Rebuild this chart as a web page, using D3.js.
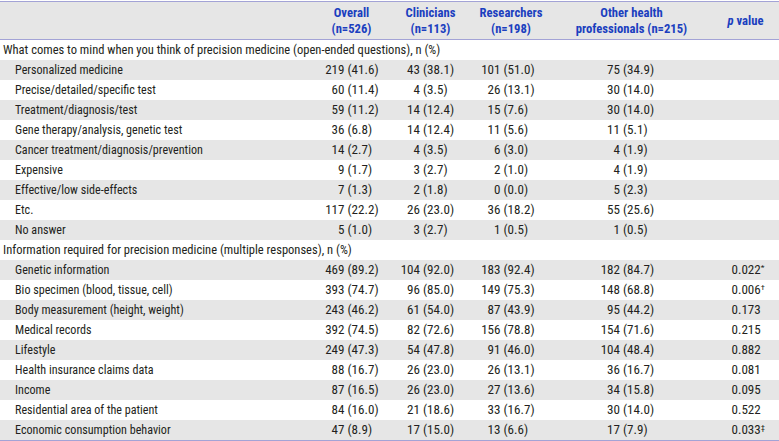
<!DOCTYPE html>
<html><head><meta charset="utf-8">
<script src="https://cdn.jsdelivr.net/npm/d3@7"></script>
<style>html,body{margin:0;padding:0;background:#fff;} svg{display:block;}</style>
</head><body>
<svg id="chart" width="779" height="441"></svg>
<script>
// ---------- DATA ----------
const columnKeys = ["overall", "clinicians", "researchers", "other"];
const columnHeads = [["Overall", "(n=526)"], ["Clinicians", "(n=113)"], ["Researchers", "(n=198)"], ["Other health", "professionals (n=215)"]];
const pValueHead = ["p", " value"];

const section1Title = "What comes to mind when you think of precision medicine (open-ended questions), n (%)";
const section1Items = ["Personalized medicine", "Precise/detailed/specific test", "Treatment/diagnosis/test",
  "Gene therapy/analysis, genetic test", "Cancer treatment/diagnosis/prevention", "Expensive",
  "Effective/low side-effects", "Etc.", "No answer"];
const s1Overall     = [[219, 41.6], [60, 11.4], [59, 11.2], [36, 6.8], [14, 2.7], [9, 1.7], [7, 1.3], [117, 22.2], [5, 1.0]];
const s1Clinicians  = [[43, 38.1], [4, 3.5], [14, 12.4], [14, 12.4], [4, 3.5], [3, 2.7], [2, 1.8], [26, 23.0], [3, 2.7]];
const s1Researchers = [[101, 51.0], [26, 13.1], [15, 7.6], [11, 5.6], [6, 3.0], [2, 1.0], [0, 0.0], [36, 18.2], [1, 0.5]];
const s1Other       = [[75, 34.9], [30, 14.0], [30, 14.0], [11, 5.1], [4, 1.9], [4, 1.9], [5, 2.3], [55, 25.6], [1, 0.5]];

const section2Title = "Information required for precision medicine (multiple responses), n (%)";
const section2Items = ["Genetic information", "Bio specimen (blood, tissue, cell)", "Body measurement (height, weight)",
  "Medical records", "Lifestyle", "Health insurance claims data", "Income", "Residential area of the patient",
  "Economic consumption behavior"];
const s2Overall     = [[469, 89.2], [393, 74.7], [243, 46.2], [392, 74.5], [249, 47.3], [88, 16.7], [87, 16.5], [84, 16.0], [47, 8.9]];
const s2Clinicians  = [[104, 92.0], [96, 85.0], [61, 54.0], [82, 72.6], [54, 47.8], [26, 23.0], [26, 23.0], [21, 18.6], [17, 15.0]];
const s2Researchers = [[183, 92.4], [149, 75.3], [87, 43.9], [156, 78.8], [91, 46.0], [26, 13.1], [27, 13.6], [33, 16.7], [13, 6.6]];
const s2Other       = [[182, 84.7], [148, 68.8], [95, 44.2], [154, 71.6], [104, 48.4], [36, 16.7], [34, 15.8], [30, 14.0], [17, 7.9]];
const s2PValues     = ["0.022", "0.006", "0.173", "0.215", "0.882", "0.081", "0.095", "0.522", "0.033"];
const s2PMarks      = ["*", "\u2020", "", "", "", "", "", "", "\u2021"];

// ---------- STYLE ----------
const W = 779, H = 441;
const FS = 12.3;
const textColor = "#231f20";
const headColor = "#1b3fbf";
const stripe = "#e6e6e6";
const ruleColor = "#a3a3d6";

// font detection
const cv = document.createElement("canvas").getContext("2d");
function width(font, s, weight) { cv.font = (weight || "normal") + " " + FS + "px " + font; return cv.measureText(s).width; }
const probe = "Personalized medicine 0123456789";
const candidates = ["'Liberation Sans Narrow'", "'Arial Narrow'", "'Roboto Condensed'", "'DejaVu Sans Condensed'", "Roboto"];
let family = "Roboto";
for (const c of candidates) {
  const a = width(c + ", monospace", probe), b = width("monospace", probe);
  const a2 = width(c + ", serif", probe), b2 = width("serif", probe);
  if (Math.abs(a - b) > 0.5 && Math.abs(a2 - b2) > 0.5) { family = c; break; }
}
const sx = 108 / width(family, "Personalized medicine");
const sxNum = sx * 1.08;
const sxSec = sx * 1.035;
const spaceW = width(family, " ") * sxNum;

// ---------- ROWS ----------
const rows = [];
rows.push({ type: "section", label: section1Title });
section1Items.forEach((lab, i) => rows.push({ type: "item", stripe: i % 2 === 0, label: lab,
  vals: [s1Overall[i], s1Clinicians[i], s1Researchers[i], s1Other[i]], p: null }));
rows.push({ type: "section", label: section2Title });
section2Items.forEach((lab, i) => rows.push({ type: "item", stripe: i % 2 === 0, label: lab,
  vals: [s2Overall[i], s2Clinicians[i], s2Researchers[i], s2Other[i]], p: s2PValues[i], mark: s2PMarks[i] }));

// ---------- SCALES ----------
const y = d3.scaleBand().domain(d3.range(rows.length)).range([40, 440]).paddingInner(0);
const xParen = d3.scaleOrdinal().domain(columnKeys).range([347.5, 423, 503.5, 623]);
const xHead = d3.scaleOrdinal().domain(columnKeys).range([351.5, 430.5, 511, 631.5]);
const xLabel = d3.scaleOrdinal().domain(["section", "item"]).range([3, 15]);
const xP = 731.5, xPHead = 745.5;
const fmt = d3.format(".1f");

const svg = d3.select("#chart");
svg.append("rect").attr("width", W).attr("height", H).attr("fill", "#fff");

// header background
svg.append("rect").attr("x", 0).attr("y", 1).attr("width", W).attr("height", 38).attr("fill", stripe);

// stripes
svg.selectAll("rect.stripe").data(rows.map((r, i) => ({ r, i })).filter(d => d.r.stripe))
  .join("rect").attr("class", "stripe")
  .attr("x", 0).attr("y", d => y(d.i)).attr("width", W).attr("height", y.bandwidth()).attr("fill", stripe);

// rules
[1.5, 39.5, 440.5].forEach(yy => svg.append("line").attr("x1", 0).attr("x2", W).attr("y1", yy).attr("y2", yy)
  .attr("stroke", ruleColor).attr("stroke-width", 1));

function txt(parent, x, yy, s, anchor, opts) {
  opts = opts || {};
  const g = parent.append("g").attr("transform", `translate(${x},${yy}) scale(${opts.sx || sx},1)`);
  const t = g.append("text").attr("x", 0).attr("y", 0).attr("text-anchor", anchor)
    .attr("font-family", family).attr("font-size", opts.fs || FS)
    .attr("font-weight", opts.bold ? "bold" : "normal")
    .attr("font-style", opts.italic ? "italic" : "normal")
    .attr("fill", opts.color || textColor).text(s);
  return t;
}

// header
const hg = svg.append("g");
const hOpt = { bold: true, color: headColor, fs: 12.6, sx: sx * 1.02 };
columnKeys.forEach((k, i) => {
  txt(hg, xHead(k), 16.5, columnHeads[i][0], "middle", hOpt);
  txt(hg, xHead(k), 33, columnHeads[i][1], "middle", hOpt);
});
{
  const t = txt(hg, xPHead, 25, "", "middle", hOpt);
  t.append("tspan").attr("font-style", "italic").text(pValueHead[0]);
  t.append("tspan").text(pValueHead[1]);
}

// body
const body = svg.append("g");
rows.forEach((r, i) => {
  const base = y(i) + 14;
  if (r.type === "section") { txt(body, xLabel(r.type), base - 0.5, r.label, "start", { sx: sxSec }); return; }
  txt(body, xLabel(r.type), base, r.label, "start");
  columnKeys.forEach((k, j) => {
    const [n, pct] = r.vals[j];
    txt(body, xParen(k) - spaceW, base, String(n), "end", { sx: sxNum });
    txt(body, xParen(k), base, "(" + fmt(pct) + ")", "start", { sx: sxNum });
  });
  if (r.p) {
    const t = txt(body, xP, base, r.p, "start", { sx: sxNum });
    if (r.mark) t.append("tspan").attr("font-size", 8).attr("dy", -4).text(r.mark);
  }
});
</script>
</body></html>
